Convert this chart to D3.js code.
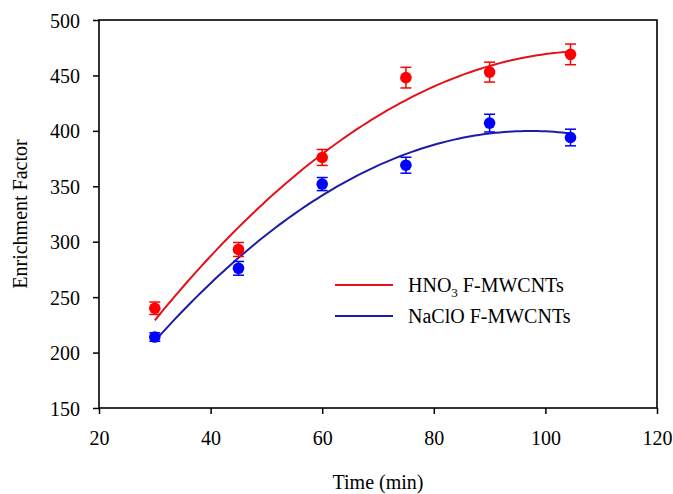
<!DOCTYPE html>
<html><head><meta charset="utf-8">
<script src="https://cdn.jsdelivr.net/npm/d3@7"></script>
<style>body{margin:0;background:#fff}svg{display:block}svg text{font-family:"Liberation Serif","Times New Roman",Times,"DejaVu Serif",serif !important;fill:#000}</style>
</head><body><svg id="c" width="673" height="494"></svg>
<script>
const timeMin = [30, 45, 60, 75, 90, 104.5];
const hno3Vals = [240, 293, 376, 448, 453, 469];
const hno3Err = [5.6, 6.3, 7.2, 9.3, 9, 9.3];
const naclVals = [214, 276, 352, 369, 407, 394];
const naclErr = [3.8, 6.2, 5.9, 7.2, 8, 7.5];
const xTicks = [20, 40, 60, 80, 100, 120];
const yTicks = [150, 200, 250, 300, 350, 400, 450, 500];
const seriesNames = ["HNO3 F-MWCNTs", "NaClO F-MWCNTs"];

const FONT = '"Liberation Serif","Times New Roman",Times,"DejaVu Serif",serif';
const svg = d3.select("#c");
const L = 99, R = 657, T = 20, B = 408;
const x = d3.scaleLinear().domain([20, 120]).range([L, R]);
const y = d3.scaleLinear().domain([150, 500]).range([B, T]);

// quadratic least-squares fit of the data (as the original trendline)
function quadFit(xs, ys) {
  const n = xs.length;
  let s = [0,0,0,0,0], t = [0,0,0];
  for (let i = 0; i < n; i++) {
    let p = 1;
    for (let k = 0; k < 5; k++) { s[k] += p; p *= xs[i]; }
    t[0] += ys[i]; t[1] += ys[i]*xs[i]; t[2] += ys[i]*xs[i]*xs[i];
  }
  const M = [[s[0],s[1],s[2],t[0]],[s[1],s[2],s[3],t[1]],[s[2],s[3],s[4],t[2]]];
  for (let i = 0; i < 3; i++) {
    for (let j = i+1; j < 3; j++) {
      const f = M[j][i]/M[i][i];
      for (let k = i; k < 4; k++) M[j][k] -= f*M[i][k];
    }
  }
  const c = [0,0,0];
  for (let i = 2; i >= 0; i--) {
    let v = M[i][3];
    for (let k = i+1; k < 3; k++) v -= M[i][k]*c[k];
    c[i] = v/M[i][i];
  }
  return xv => c[0] + c[1]*xv + c[2]*xv*xv;
}

const series = [
  {vals: hno3Vals, err: hno3Err, dot: "#ff0000", line: "#e3121b"},
  {vals: naclVals, err: naclErr, dot: "#0000ff", line: "#1c1ca6"}
];

const line = d3.line().x(d => x(d[0])).y(d => y(d[1]));
series.forEach(s => {
  const f = quadFit(timeMin, s.vals);
  const x0 = d3.min(timeMin), x1 = d3.max(timeMin);
  const pts = d3.range(0, 101).map(i => { const xv = x0 + (x1-x0)*i/100; return [xv, f(xv)]; });
  svg.append("path").attr("d", line(pts)).attr("fill", "none").attr("stroke", s.line).attr("stroke-width", 2);
});

series.forEach(s => {
  const g = svg.append("g").attr("stroke", s.dot).attr("stroke-width", 1.5);
  timeMin.forEach((t, i) => {
    const cx = x(t), yl = y(s.vals[i]-s.err[i]), yh = y(s.vals[i]+s.err[i]);
    g.append("line").attr("x1", cx).attr("x2", cx).attr("y1", yl).attr("y2", yh);
    g.append("line").attr("x1", cx-5.5).attr("x2", cx+5.5).attr("y1", yl).attr("y2", yl);
    g.append("line").attr("x1", cx-5.5).attr("x2", cx+5.5).attr("y1", yh).attr("y2", yh);
  });
  svg.append("g").selectAll("circle").data(timeMin).join("circle")
    .attr("cx", d => x(d)).attr("cy", (d, i) => y(s.vals[i])).attr("r", 5.8).attr("fill", s.dot);
});

// frame
svg.append("rect").attr("x", L).attr("y", T).attr("width", R-L).attr("height", B-T)
  .attr("fill", "none").attr("stroke", "#000").attr("stroke-width", 1.6);

const xa = svg.append("g").attr("transform", `translate(0,${B})`)
  .call(d3.axisBottom(x).tickValues(xTicks).tickSize(6).tickPadding(8).tickFormat(d3.format("d")));
const ya = svg.append("g").attr("transform", `translate(${L},0)`)
  .call(d3.axisLeft(y).tickValues(yTicks).tickSize(6).tickPadding(13).tickFormat(d3.format("d")));
[xa, ya].forEach(a => {
  a.attr("font-family", FONT).attr("font-size", 20);
  a.select(".domain").remove();
  a.selectAll(".tick line").attr("stroke", "#000").attr("stroke-width", 1.5);
  a.selectAll("text").attr("fill", "#000");
});
xa.selectAll("text").attr("y", 37).attr("dy", null);
ya.selectAll("text").attr("dy", "0.35em");

svg.append("text").attr("x", (L+R)/2).attr("y", 489).attr("text-anchor", "middle")
  .attr("font-family", FONT).attr("font-size", 20).text("Time (min)");
svg.append("text").attr("transform", `translate(27,${(T+B)/2}) rotate(-90)`).attr("text-anchor", "middle")
  .attr("font-family", FONT).attr("font-size", 20).text("Enrichment Factor");

// legend
const leg = [
  {y: 285, color: series[0].line},
  {y: 316, color: series[1].line}
];
leg.forEach(d => {
  svg.append("line").attr("x1", 335).attr("x2", 393).attr("y1", d.y).attr("y2", d.y)
    .attr("stroke", d.color).attr("stroke-width", 2);
});
const t1 = svg.append("text").attr("x", 408).attr("y", 292).attr("font-family", FONT).attr("font-size", 20);
t1.append("tspan").text("HNO");
t1.append("tspan").attr("dy", 5).attr("font-size", 13).text("3");
t1.append("tspan").attr("dy", -5).text(" F-MWCNTs");
svg.append("text").attr("x", 408).attr("y", 323).attr("font-family", FONT).attr("font-size", 20).text(seriesNames[1]);
</script></body></html>
